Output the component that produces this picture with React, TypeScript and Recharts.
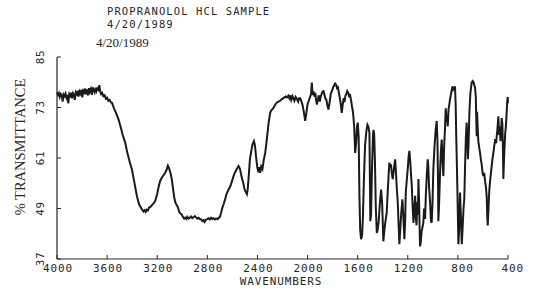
import { Line, LineChart, XAxis, YAxis } from "recharts";

// IR scan (cm-1 vs %T)
const wavenumbers = [
  4000, 3992, 3985, 3978, 3970, 3962, 3955, 3948, 3940, 3932, 3925, 3918, 3910, 3902, 3895, 3888,
  3880, 3872, 3865, 3858, 3850, 3842, 3835, 3828, 3820, 3812, 3805, 3798, 3790, 3782, 3775, 3768,
  3760, 3752, 3745, 3738, 3730, 3722, 3715, 3708, 3700, 3692, 3685, 3678, 3670, 3662, 3655, 3648,
  3640, 3630, 3620, 3610, 3600, 3590, 3580, 3570, 3561, 3545, 3530, 3509, 3490, 3475, 3455, 3440,
  3420, 3402, 3385, 3370, 3362, 3345, 3322, 3310, 3300, 3292, 3285, 3275, 3265, 3250, 3240, 3229,
  3216, 3200, 3190, 3176, 3160, 3140, 3125, 3115, 3108, 3100, 3092, 3083, 3075, 3065, 3056, 3045,
  3035, 3025, 3015, 3005, 2995, 2985, 2977, 2968, 2960, 2950, 2940, 2930, 2920, 2910, 2900, 2890,
  2880, 2870, 2860, 2850, 2840, 2830, 2822, 2812, 2800, 2790, 2780, 2770, 2760, 2750, 2740, 2730,
  2720, 2710, 2700, 2690, 2680, 2670, 2658, 2645, 2630, 2615, 2600, 2591, 2580, 2565, 2551, 2540,
  2530, 2520, 2514, 2505, 2495, 2484, 2478, 2470, 2460, 2450, 2440, 2428, 2420, 2410, 2400, 2392,
  2385, 2378, 2370, 2360, 2350, 2338, 2325, 2310, 2299, 2290, 2280, 2272, 2260, 2245, 2232, 2219,
  2205, 2190, 2175, 2165, 2153, 2145, 2138, 2130, 2120, 2112, 2105, 2095, 2085, 2075, 2068, 2059,
  2050, 2040, 2030, 2019, 2010, 2000, 1990, 1980, 1972, 1966, 1960, 1952, 1945, 1938, 1932, 1926,
  1918, 1910, 1902, 1895, 1888, 1880, 1873, 1865, 1858, 1850, 1842, 1833, 1825, 1815, 1805, 1798,
  1790, 1780, 1772, 1765, 1758, 1750, 1742, 1735, 1727, 1720, 1712, 1705, 1698, 1690, 1683, 1675,
  1668, 1660, 1652, 1645, 1638, 1634, 1627, 1620, 1612, 1605, 1599, 1592, 1586, 1580, 1573, 1565,
  1558, 1550, 1541, 1530, 1522, 1514, 1506, 1503, 1499, 1493, 1486, 1478, 1474, 1468, 1462, 1455,
  1447, 1440, 1432, 1422, 1413, 1405, 1400, 1395, 1388, 1380, 1368, 1360, 1352, 1347, 1340, 1334,
  1328, 1320, 1310, 1301, 1295, 1288, 1280, 1273, 1267, 1260, 1252, 1243, 1236, 1227, 1221, 1216,
  1210, 1200, 1193, 1187, 1180, 1174, 1168, 1162, 1155, 1148, 1141, 1136, 1130, 1124, 1119, 1115,
  1110, 1106, 1102, 1096, 1090, 1083, 1076, 1070, 1062, 1056, 1048, 1041, 1036, 1030, 1022, 1015,
  1009, 1003, 996, 988, 978, 969, 963, 958, 956, 950, 942, 935, 929, 922, 916, 910,
  903, 897, 890, 885, 881, 875, 868, 863, 856, 850, 844, 838, 830, 823, 818, 813,
  809, 803, 796, 790, 783, 776, 769, 762, 755, 749, 742, 736, 730, 725, 720, 715,
  708, 700, 690, 682, 675, 668, 663, 657, 653, 650, 647, 643, 637, 630, 623, 616,
  610, 603, 597, 590, 583, 576, 570, 566, 562, 557, 550, 544, 535, 525, 517, 510,
  502, 495, 490, 484, 477, 471, 466, 460, 455, 450, 445, 441, 437, 432, 427, 422,
  418, 412, 406, 402, 400,
];

const transmittance = [
  76.6, 76.0, 76.4, 75.5, 76.2, 75.8, 74.4, 76.1, 75.7, 76.3, 75.4, 76.0, 74.0, 76.2, 75.8, 76.5,
  75.2, 76.4, 76.0, 74.8, 76.6, 76.2, 77.0, 75.6, 76.8, 76.3, 77.2, 75.4, 77.0, 76.6, 77.5, 76.1,
  77.3, 75.9, 77.6, 76.8, 77.4, 76.0, 77.8, 77.1, 76.6, 77.7, 76.9, 77.5, 77.2, 78.3, 76.8, 76.2,
  76.5, 75.7, 75.9, 75.1, 75.3, 74.6, 74.8, 74.2, 74.1, 72.8, 71.8, 70.2, 68.2, 66.4, 64.6, 62.4,
  60.1, 58.3, 55.6, 53.2, 51.9, 50.0, 48.8, 48.3, 48.6, 48.2, 48.7, 48.5, 49.2, 49.5, 49.9, 50.2,
  50.8, 52.5, 54.0, 55.6, 56.5, 57.3, 58.2, 59.2, 58.8, 58.0, 57.2, 55.8, 54.0, 51.8, 50.5, 49.8,
  49.3, 48.2, 47.8, 47.6, 47.0, 46.6, 46.8, 46.5, 47.0, 46.6, 46.8, 47.1, 46.7, 46.9, 47.2, 46.9,
  46.6, 46.8, 46.5, 46.4, 46.0, 46.2, 45.8, 46.3, 46.5, 46.7, 46.4, 46.8, 46.5, 46.7, 46.4, 46.6,
  46.5, 46.7, 47.0, 48.0, 49.2, 50.0, 51.2, 52.6, 53.5, 54.4, 55.8, 56.7, 57.5, 58.4, 59.1, 58.5,
  57.0, 55.8, 55.2, 53.8, 53.0, 52.4, 53.5, 56.5, 60.7, 62.5, 64.2, 65.0, 64.0, 61.0, 58.6, 57.6,
  58.8, 57.5, 59.0, 58.4, 60.5, 62.2, 65.5, 69.5, 71.7, 72.3, 72.6, 72.9, 73.6, 74.2, 74.4, 74.6,
  75.0, 75.3, 75.6, 75.4, 75.8, 75.2, 75.9, 74.8, 75.7, 75.1, 74.6, 75.5, 75.0, 74.4, 75.2, 75.2,
  74.5, 73.6, 72.0, 69.8, 71.5, 73.8, 74.6, 75.5, 76.2, 78.9, 76.0, 76.8, 75.6, 76.5, 74.8, 73.7,
  74.8, 75.9, 74.4, 75.6, 76.2, 76.8, 76.9, 76.0, 75.2, 74.8, 73.6, 72.5, 74.0, 76.2, 77.0, 77.6,
  78.2, 78.7, 78.4, 77.6, 77.8, 76.5, 75.2, 73.8, 71.7, 73.5, 75.2, 74.3, 75.8, 76.2, 76.9, 76.5,
  75.7, 75.9, 74.6, 73.2, 72.0, 70.9, 68.0, 62.2, 64.5, 68.5, 69.4, 66.0, 52.0, 44.0, 41.7, 42.5,
  47.0, 56.0, 64.0, 67.5, 68.9, 68.4, 66.9, 58.0, 46.0, 47.5, 58.0, 66.0, 67.7, 66.5, 60.0, 49.0,
  43.2, 44.0, 46.0, 50.5, 53.5, 50.5, 46.0, 41.2, 43.5, 45.5, 48.0, 53.0, 57.5, 59.9, 58.8, 59.5,
  57.5, 56.0, 58.6, 60.7, 58.0, 54.0, 50.5, 45.0, 40.5, 44.0, 48.0, 51.2, 47.5, 41.7, 46.0, 52.8,
  55.0, 58.5, 61.5, 62.7, 60.0, 57.0, 54.4, 50.0, 45.6, 48.5, 52.0, 47.0, 45.0, 50.5, 47.5, 56.0,
  51.0, 45.0, 40.0, 41.0, 43.5, 44.5, 45.6, 49.0, 46.5, 52.0, 57.0, 60.7, 59.0, 54.0, 50.5, 46.0,
  45.6, 50.0, 58.3, 63.0, 67.5, 69.8, 65.0, 54.0, 46.0, 50.0, 58.0, 63.0, 65.4, 60.0, 56.7, 63.5,
  68.0, 72.8, 69.5, 71.0, 68.5, 72.5, 73.8, 74.9, 76.0, 77.0, 78.0, 77.2, 77.5, 78.0, 74.0, 66.0,
  60.7, 52.0, 40.5, 44.0, 52.8, 47.0, 40.5, 44.5, 49.0, 51.2, 60.0, 66.0, 69.4, 65.0, 60.7, 64.0,
  72.0, 76.5, 78.9, 79.3, 79.0, 78.2, 77.7, 75.5, 70.0, 66.2, 72.0, 69.0, 65.0, 63.5, 62.2, 60.5,
  59.5, 57.5, 56.7, 57.5, 55.5, 54.0, 51.9, 47.5, 45.0, 48.0, 53.0, 55.2, 57.8, 60.5, 62.2, 63.8,
  65.5, 64.5, 66.2, 68.0, 70.9, 66.5, 68.5, 65.0, 67.5, 70.5, 69.0, 64.0, 56.0, 60.5, 64.0, 67.0,
  68.1, 71.0, 74.5, 75.5, 74.0,
];

const xTicks = [4000, 3600, 3200, 2800, 2400, 2000, 1600, 1200, 800, 400];
const yTicks = [37, 49, 61, 73, 85];

const data = wavenumbers.map((wn, i) => ({ wn, t: transmittance[i] }));

const ink = "#262626";
const plotter = "'DejaVu Sans Mono', monospace";
const serif = "'Liberation Serif', 'DejaVu Serif', serif";

const XTick = ({ x, y, payload }: any) => (
  <g>
    <line x1={x} y1={y} x2={x} y2={y - 4} stroke={ink} strokeWidth={1} />
    <text x={x + 16} y={y + 13} textAnchor="end" fontFamily={plotter} fontSize={11} letterSpacing={0.9} fill={ink}>
      {payload.value}
    </text>
  </g>
);

const YTick = ({ x, y, payload }: any) => (
  <g>
    <line x1={x} y1={y} x2={x + 4} y2={y} stroke={ink} strokeWidth={1} />
    <text
      x={x - 13.5}
      y={y}
      transform={`rotate(-90 ${x - 13.5} ${y})`}
      textAnchor="middle"
      fontFamily={plotter}
      fontSize={11}
      letterSpacing={0.6}
      fill={ink}
    >
      {payload.value}
    </text>
  </g>
);

export default function App() {
  return (
    <div style={{ position: "absolute", left: 0, top: 0, width: 535, height: 290, background: "#fff" }}>
      <LineChart width={535} height={290} data={data} margin={{ top: 57, right: 27, left: 0, bottom: 0 }}>
        <XAxis
          dataKey="wn"
          type="number"
          domain={[400, 4000]}
          reversed
          ticks={xTicks}
          interval={0}
          height={31}
          tickSize={0}
          tickMargin={0}
          tickLine={false}
          tick={<XTick />}
          axisLine={{ stroke: ink, strokeWidth: 1.2 }}
        />
        <YAxis
          type="number"
          domain={[37, 85]}
          ticks={yTicks}
          interval={0}
          width={57}
          tickSize={0}
          tickMargin={0}
          tickLine={false}
          tick={<YTick />}
          axisLine={{ stroke: ink, strokeWidth: 1.2 }}
        />
        <Line
          dataKey="t"
          type="linear"
          dot={false}
          stroke="#1a1a1a"
          strokeWidth={2}
          isAnimationActive={false}
        />
      </LineChart>
      <svg width={535} height={290} style={{ position: "absolute", left: 0, top: 0, pointerEvents: "none" }}>
        <text x={107} y={15} fontFamily={plotter} fontSize={10.5} letterSpacing={1.1} fill={ink}>
          PROPRANOLOL HCL SAMPLE
        </text>
        <text x={107} y={27.5} fontFamily={plotter} fontSize={10.5} letterSpacing={1.1} fill={ink}>
          4/20/1989
        </text>
        <text x={96} y={47} fontFamily={serif} fontSize={13} fill={ink}>
          4/20/1989
        </text>
        <text
          x={20}
          y={147}
          transform="rotate(-90 20 147)"
          textAnchor="middle"
          dominantBaseline="central"
          fontFamily={serif}
          fontSize={14.5}
          fill={ink}
        >
          % TRANSMITTANCE
        </text>
        <text x={281} y={285} textAnchor="middle" fontFamily={plotter} fontSize={11} letterSpacing={0.9} fill={ink}>
          WAVENUMBERS
        </text>
      </svg>
    </div>
  );
}
